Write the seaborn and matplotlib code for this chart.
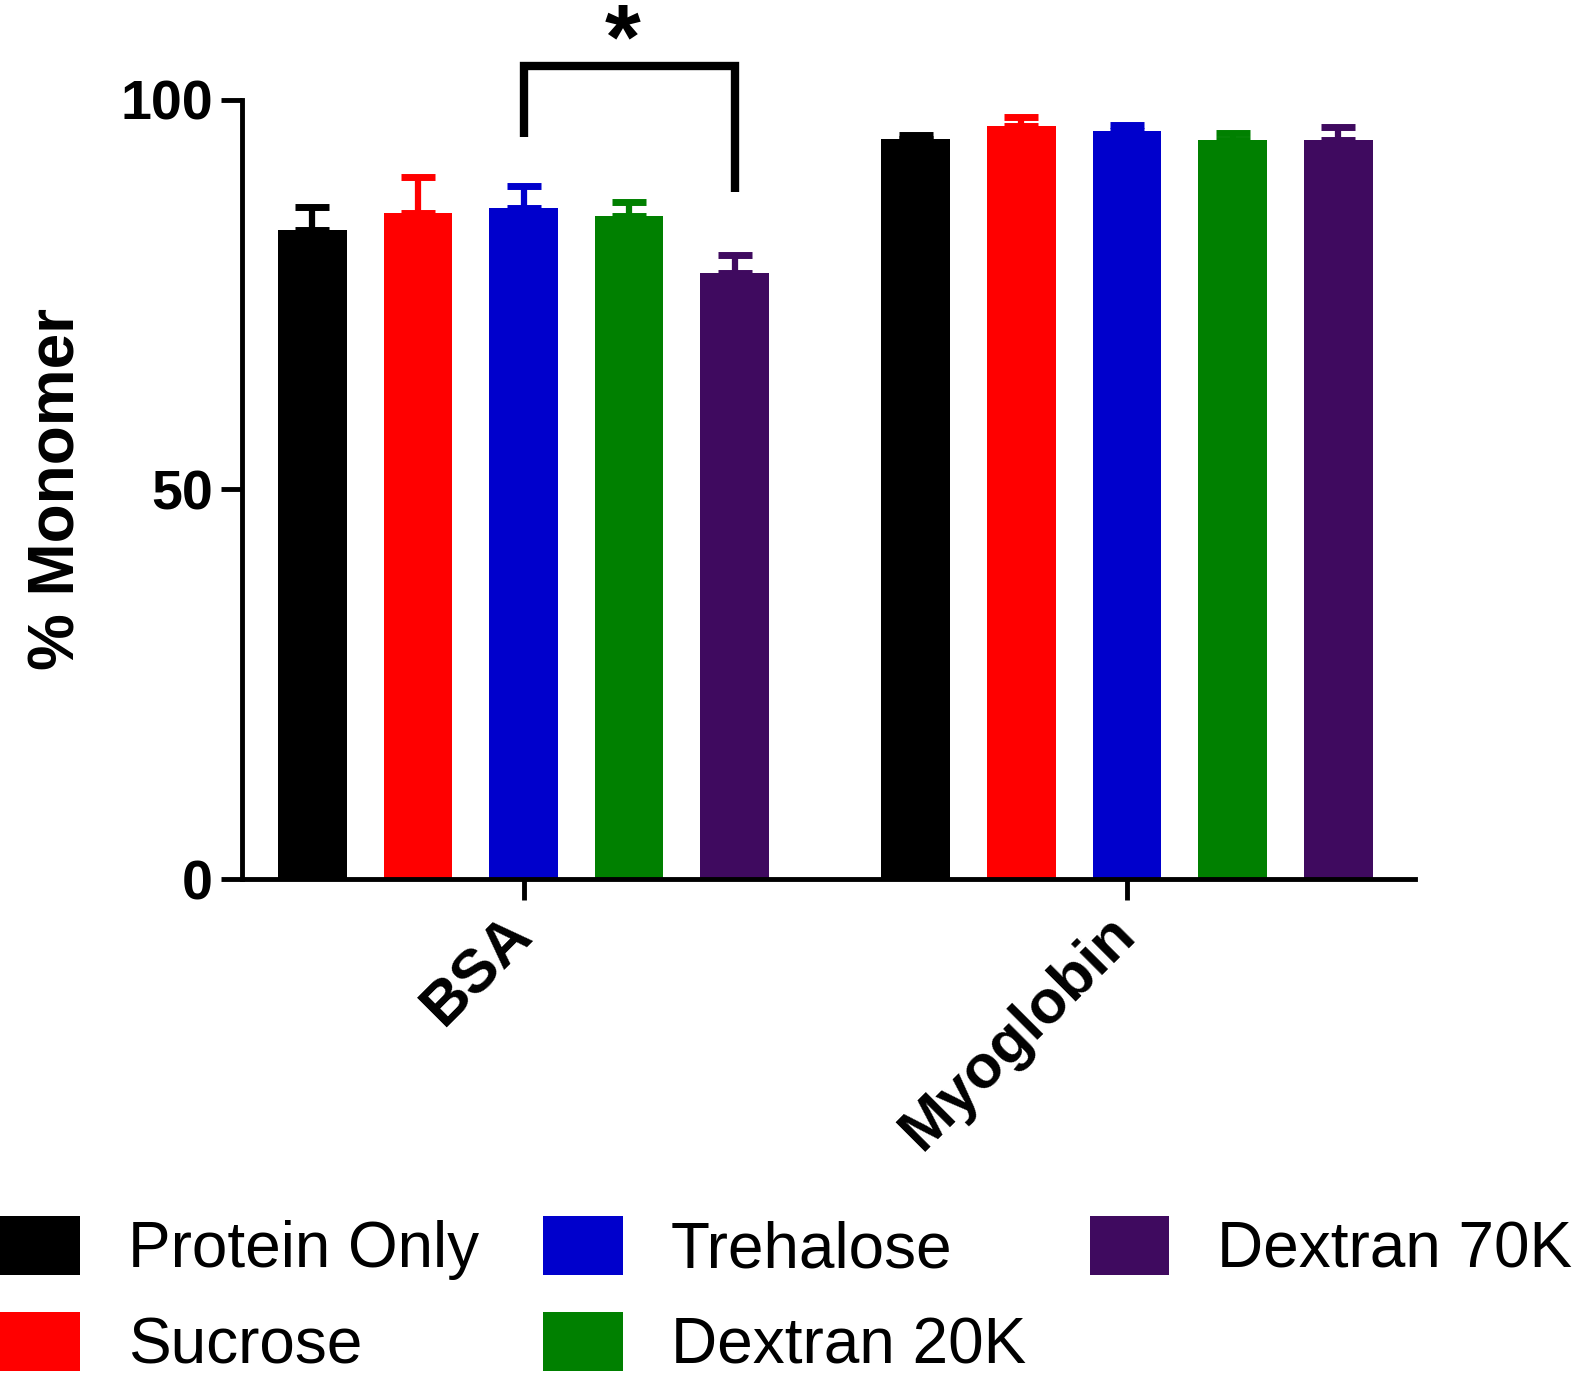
import pandas as pd
import matplotlib.pyplot as plt
import seaborn as sns

# Chart data
proteins = ['BSA', 'Myoglobin']
conditions = ['Protein Only', 'Sucrose', 'Trehalose', 'Dextran 20K', 'Dextran 70K']
colors = ['#000000', '#FF0000', '#0000CC', '#008000', '#3F0A5F']
bsa_mean = [83.3, 85.5, 86.1, 85.1, 77.7]
bsa_err = [2.9, 4.5, 2.8, 1.7, 2.4]
myo_mean = [94.9, 96.6, 95.9, 94.8, 94.8]
myo_err = [0.5, 1.1, 0.8, 0.9, 1.7]
y_ticks = [0, 50, 100]

# significance bracket: Trehalose vs Dextran 70K (BSA)
sig_pair = ['Trehalose', 'Dextran 70K']
sig_left_bottom = 95.2
sig_right_bottom = 88.2
sig_top = 104.3

# Long form table
rows = []
for cond, m, e in zip(conditions, bsa_mean, bsa_err):
    rows.append({'protein': 'BSA', 'condition': cond, 'mean': m, 'err': e})
for cond, m, e in zip(conditions, myo_mean, myo_err):
    rows.append({'protein': 'Myoglobin', 'condition': cond, 'mean': m, 'err': e})
df = pd.DataFrame(rows)

sns.set_style('ticks')
plt.rcParams['font.family'] = ['Liberation Sans', 'DejaVu Sans']
plt.rcParams['text.color'] = 'black'
plt.rcParams['axes.labelcolor'] = 'black'
plt.rcParams['xtick.color'] = 'black'
plt.rcParams['ytick.color'] = 'black'
plt.rcParams['axes.edgecolor'] = 'black'

fig = plt.figure(figsize=(15.94, 13.82), dpi=100)
ax = fig.add_axes([0.152, 0.3637, 0.736, 0.5643])

sns.barplot(data=df, x='protein', y='mean', hue='condition', order=proteins,
            hue_order=conditions, palette=colors, width=0.875, gap=0.35,
            errorbar=None, saturation=1, linewidth=0, ax=ax)

# one-sided error bars, positioned from the drawn bars
centers = {}
for cond, color, cont in zip(conditions, colors, ax.containers):
    for prot, bar in zip(proteins, cont):
        xc = bar.get_x() + bar.get_width() / 2
        centers[(prot, cond)] = xc
        e = df[(df.protein == prot) & (df.condition == cond)]['err'].iloc[0]
        ax.errorbar(xc, bar.get_height(), yerr=[[0], [e]], color=color,
                    elinewidth=4.5, capsize=12, capthick=5, zorder=1)
    for bar in cont:
        bar.set_zorder(2)

# significance bracket
x1 = centers[('BSA', sig_pair[0])]
x2 = centers[('BSA', sig_pair[1])]
ax.plot([x1, x1, x2, x2], [sig_left_bottom, sig_top, sig_top, sig_right_bottom],
        color='black', lw=6, clip_on=False, solid_capstyle='butt',
        solid_joinstyle='miter')
# star: x from the bracket, top of its box at the figure edge
star_x = fig.transFigure.inverted().transform(ax.transData.transform(((x1 + x2) / 2, 0)))[0]
fig.text(star_x - 0.01, 0.999, '*', ha='center', va='top',
         fontsize=66, fontweight='bold')

ax.set_ylim(0, 100)
ax.set_xlim(-0.466, 1.478)
ax.set_yticks(y_ticks)
ax.set_ylabel('% Monomer', fontsize=46, fontweight='bold', labelpad=24)
ax.set_xlabel('')
sns.despine(ax=ax)
for sp in ['left', 'bottom']:
    ax.spines[sp].set_linewidth(3.5)
ax.tick_params(axis='both', length=15, width=3.5, labelsize=40, pad=6)
for lab in ax.get_yticklabels():
    lab.set_fontweight('bold')
ax.set_xticks(range(len(proteins)))
ax.set_xticklabels(proteins, rotation=45, ha='right', va='center',
                   rotation_mode='anchor', fontsize=44, fontweight='bold')
ax.tick_params(axis='x', pad=18)

handles, labels = ax.get_legend_handles_labels()
ax.legend_.remove()
fig.legend(handles, labels, loc='lower left', bbox_to_anchor=(0, 0.004),
           ncol=3, frameon=False, fontsize=46, handlelength=1.25,
           handleheight=1.05, handletextpad=0.75, columnspacing=1.0,
           labelspacing=0.5, borderpad=0, borderaxespad=0)

fig.savefig('out.png', dpi=100)
